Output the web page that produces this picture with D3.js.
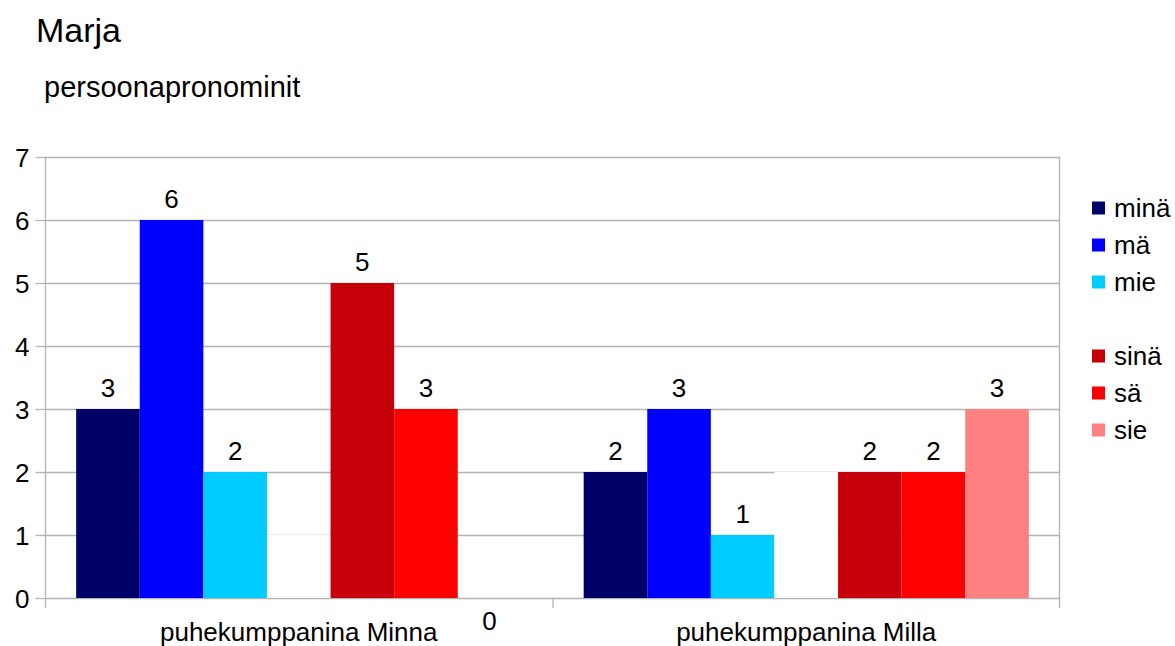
<!DOCTYPE html>
<html>
<head>
<meta charset="utf-8">
<script src="https://cdn.jsdelivr.net/npm/d3@7"></script>
<style>
  html, body { margin: 0; padding: 0; background: #fff; }
  svg { display: block; font-family: "Liberation Sans", Arial, sans-serif; }
</style>
</head>
<body>
<svg id="chart" width="1175" height="646"></svg>
<script>
// Groups along the x axis
const categories = ["puhekumppanina Minna", "puhekumppanina Milla"];

// Series (the empty one is a white spacer between the first- and second-person forms)
const seriesNames = ["minä", "mä", "mie", "", "sinä", "sä", "sie"];
const seriesColors = ["#000066", "#0000ff", "#00ccff", "#ffffff", "#c5000b", "#ff0000", "#ff8080"];

// Counts per series, one value per group
const minaValues   = [3, 2];
const maValues     = [6, 3];
const mieValues    = [2, 1];
const spacerValues = [1, 2];
const sinaValues   = [5, 2];
const saValues     = [3, 2];
const sieValues    = [0, 3];

const yTicks = [0, 1, 2, 3, 4, 5, 6, 7];

const seriesValues = [minaValues, maValues, mieValues, spacerValues, sinaValues, saValues, sieValues];

const svg = d3.select("#chart");
const plot = { left: 45, right: 1060, top: 157, bottom: 598 };
const gridColor = "#b3b3b3";
const labelSize = 26;

const y = d3.scaleLinear().domain([0, 7]).range([plot.bottom, plot.top]);
const x0 = d3.scaleBand().domain(categories).range([plot.left, plot.right]).padding(0);
const x1 = d3.scaleBand().domain(d3.range(seriesNames.length))
  .range([0, x0.bandwidth()]).paddingInner(0).paddingOuter(0.49);

// Titles
svg.append("text").attr("x", 36).attr("y", 42)
  .attr("font-size", 34).attr("fill", "#000").text("Marja");
svg.append("text").attr("x", 44).attr("y", 97)
  .attr("font-size", 29).attr("fill", "#000").text("persoonapronominit");

// Horizontal gridlines
svg.append("g").selectAll("line").data(yTicks).join("line")
  .attr("x1", plot.left).attr("x2", plot.right)
  .attr("y1", d => Math.round(y(d)) + 0.5).attr("y2", d => Math.round(y(d)) + 0.5)
  .attr("stroke", gridColor).attr("stroke-width", 1.3);

// Y axis with outer ticks
const yAxis = d3.axisLeft(y).tickValues(yTicks).tickSize(10).tickPadding(6).tickFormat(d3.format("d"));
const gy = svg.append("g").attr("transform", `translate(${plot.left + 0.5},0)`).call(yAxis);
gy.select(".domain").remove();
gy.selectAll(".tick line").attr("stroke", gridColor).attr("stroke-width", 1.3);
gy.selectAll(".tick text").attr("font-size", labelSize).attr("fill", "#000")
  .attr("font-family", "Liberation Sans, Arial, sans-serif").attr("dy", "0.36em");

// Bars
const barData = [];
categories.forEach((cat, ci) => {
  seriesNames.forEach((name, si) => {
    barData.push({ cat, si, name, value: seriesValues[si][ci] });
  });
});

svg.append("g").selectAll("rect").data(barData).join("rect")
  .attr("x", d => x0(d.cat) + x1(d.si))
  .attr("y", d => y(d.value))
  .attr("width", x1.bandwidth())
  .attr("height", d => y(0) - y(d.value))
  .attr("fill", d => seriesColors[d.si]);

// Frame: left axis line, right border, bottom ticks
const frame = svg.append("g").attr("stroke", gridColor).attr("stroke-width", 1.3);
frame.append("line").attr("x1", plot.left + 0.5).attr("x2", plot.left + 0.5)
  .attr("y1", plot.top).attr("y2", plot.bottom + 10);
frame.append("line").attr("x1", plot.right - 0.5).attr("x2", plot.right - 0.5)
  .attr("y1", plot.top).attr("y2", plot.bottom + 10);
frame.append("line").attr("x1", x0(categories[1]) + 0.5).attr("x2", x0(categories[1]) + 0.5)
  .attr("y1", plot.bottom).attr("y2", plot.bottom + 10);

// Value labels (spacer series unlabelled; zero values sit below the axis)
svg.append("g").selectAll("text").data(barData.filter(d => d.name !== "")).join("text")
  .attr("x", d => x0(d.cat) + x1(d.si) + x1.bandwidth() / 2)
  .attr("y", d => d.value === 0 ? y(0) + 32 : y(d.value) - 12)
  .attr("text-anchor", "middle").attr("font-size", labelSize).attr("fill", "#000")
  .text(d => d.value);

// Category labels
svg.append("g").selectAll("text").data(categories).join("text")
  .attr("x", d => x0(d) + x0.bandwidth() / 2)
  .attr("y", 641)
  .attr("text-anchor", "middle").attr("font-size", labelSize).attr("fill", "#000")
  .text(d => d);

// Legend
const legendRowY = d3.scalePoint().domain(d3.range(seriesNames.length)).range([208, 430]);
const legend = svg.append("g").selectAll("g")
  .data(seriesNames.map((name, i) => ({ name, i })).filter(d => d.name !== ""))
  .join("g").attr("transform", d => `translate(1092,${legendRowY(d.i)})`);
legend.append("rect").attr("x", 0).attr("y", -6.5).attr("width", 13).attr("height", 13)
  .attr("fill", d => seriesColors[d.i]);
legend.append("text").attr("x", 22).attr("y", 8.5)
  .attr("font-size", labelSize).attr("fill", "#000").text(d => d.name);
</script>
</body>
</html>
